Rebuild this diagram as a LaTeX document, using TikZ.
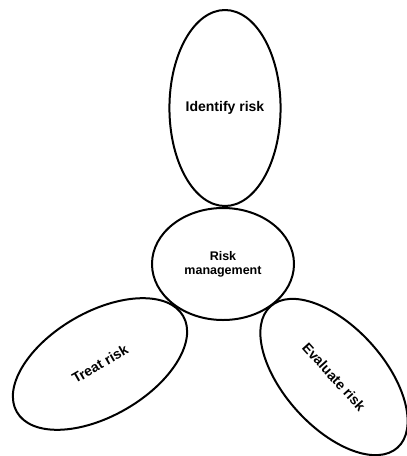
\documentclass[tikz,border=0pt]{standalone}
\usepackage{fontspec}
\setmainfont{Liberation Sans}
\usetikzlibrary{shapes.geometric}
\tikzset{petal/.style={draw, ellipse, line width=2pt, inner sep=0pt, font=\fontsize{14}{16}\selectfont\bfseries, align=center}}

\begin{document}
\begin{tikzpicture}
	\useasboundingbox (0,0) rectangle (407pt,-456pt);
	\node[petal, minimum width=90pt, minimum height=196pt] (identify) at (225pt,-108pt) {Identify risk};
	\node[petal, minimum width=142pt, minimum height=112pt, font=\fontsize{12.5}{14}\selectfont\bfseries] (riskmgmt) at (223pt,-264pt) {Risk\\management};
	\node[petal, rotate=30, minimum width=192pt, minimum height=104pt] (treat) at (100pt,-364pt) {Treat risk};
	\node[petal, rotate=-48, minimum width=190pt, minimum height=100pt] (evaluate) at (334pt,-377pt) {Evaluate risk};
\end{tikzpicture}
\end{document}
